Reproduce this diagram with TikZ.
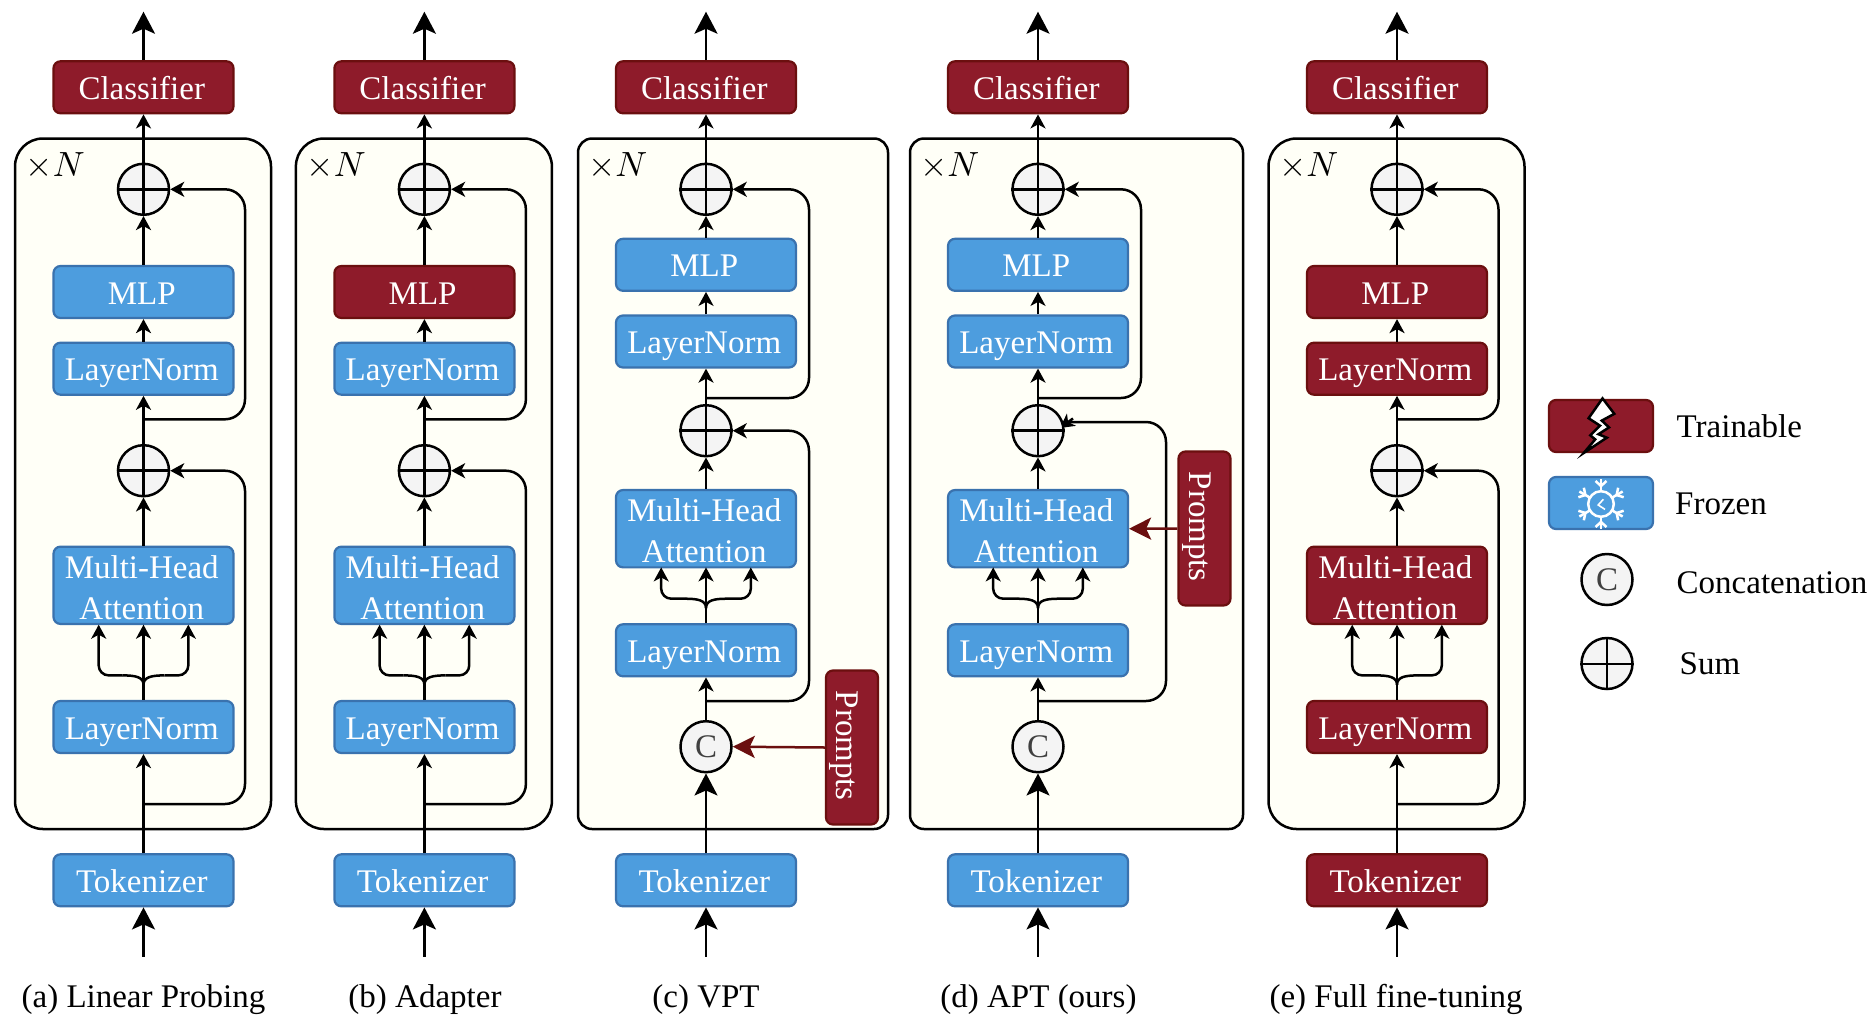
\documentclass[tikz,border=0pt]{standalone}
\usepackage{fontspec}
\setmainfont{Liberation Serif}
\usetikzlibrary{arrows.meta,shapes.geometric}
\definecolor{bluefill}{HTML}{4D9DDE}
\definecolor{blueline}{HTML}{3A72AE}
\definecolor{redfill}{HTML}{8E1B2A}
\definecolor{redline}{HTML}{6B0F0F}
\definecolor{framefill}{HTML}{FFFFF7}
\definecolor{opfill}{HTML}{F4F4F4}
\newcommand{\nudge}{\rule{3.5pt}{0pt}}
\newcommand{\mhatext}{\rule{0pt}{27.5pt}Multi-Head\nudge\\Attention\nudge}
\tikzset{
  x=1pt,y=-1pt,
  basebox/.style={rounded corners=7pt,line width=2.2pt,minimum width=180pt,minimum height=52pt,inner sep=0pt,text=white,align=center,font=\fontsize{33}{41}\selectfont},
  frozen/.style={basebox,draw=blueline,fill=bluefill},
  trainable/.style={basebox,draw=redline,fill=redfill},
  oneline/.style={text height=24pt,text depth=0pt,execute at end node=\nudge},
  mhabox/.style={minimum height=77.3pt},
  legendbox/.style={minimum width=104pt},
  promptbox/.style={trainable,oneline,text height=31pt,rotate=-90,minimum width=154pt,minimum height=52pt},
  opnode/.style={circle,draw=black,line width=2.5pt,fill=opfill,minimum size=51pt,inner sep=0pt,font=\fontsize{33}{33}\selectfont,text=black!75},
  wire/.style={line width=2.5pt,draw=black},
  small/.style={wire,-{Stealth[length=14pt,width=15pt,inset=4pt]}},
  large/.style={wire,-{Stealth[length=22pt,width=23pt,inset=5pt]}},
  promptarrow/.style={line width=2.5pt,draw=redline,-{Stealth[length=22pt,width=22pt,inset=5pt]}},
  loopwire/.style={small,rounded corners=20pt},
  loopplain/.style={wire,rounded corners=20pt},
  forkcorner/.style={small,rounded corners=10pt},
  frameA/.style={draw=black,line width=2.5pt,fill=framefill,rounded corners=28pt},
  frameB/.style={draw=black,line width=2.5pt,fill=framefill,rounded corners=14pt},
  plainlabel/.style={font=\fontsize{33}{33}\selectfont,text=black,inner sep=0pt,text height=22pt,text depth=0pt},
  timesN/.style={text=black,inner sep=0pt,anchor=west},
}
\newcommand{\forkwires}[4]{% id, cx, y of LN top, y of attention bottom
  \coordinate (#1fj) at (#2,#3-16.2);
  \coordinate (#1fl) at (#2-21,#3-25.6);
  \coordinate (#1fr) at (#2+21,#3-25.6);
  \coordinate (#1flc) at (#2-44.8,#3-25.6);
  \coordinate (#1frc) at (#2+44.8,#3-25.6);
  \coordinate (#1flt) at (#2-44.8,#4);
  \coordinate (#1frt) at (#2+44.8,#4);
  \coordinate (#1fmt) at (#2,#4);
  \draw[wire] (#1fj) .. controls (#2,#3-24) and (#2-8,#3-25.6) .. (#1fl);
  \draw[wire] (#1fj) .. controls (#2,#3-24) and (#2+8,#3-25.6) .. (#1fr);
  \draw[forkcorner] (#1fl) -- (#1flc) -- (#1flt);
  \draw[forkcorner] (#1fr) -- (#1frc) -- (#1frt);
  \draw[small] (#1ln1.north) -- (#1fmt);
}
\newcommand{\sumlines}[1]{%
  \draw[wire] (#1.north) -- (#1.south);
  \draw[wire] (#1.west) -- (#1.east);
}
\newcommand{\stdpanel}[4]{% id, cx, MLP style, other-block style
  \draw[frameA] (#2-128.5,138.5) rectangle (#2+127.5,829);
  \node[timesN] (#1times) at (#2-118,165.5) {\scalebox{3.5}{$\times N$}};
  \node[trainable,oneline] (#1cls) at (#2,87.3) {Classifier};
  \node[#3,oneline] (#1mlp) at (#2,292) {MLP};
  \node[#4,oneline] (#1ln2) at (#2,368.7) {LayerNorm};
  \node[#4,mhabox] (#1mha) at (#2,585.3) {\mhatext};
  \node[#4,oneline] (#1ln1) at (#2,727) {LayerNorm};
  \node[#4,oneline] (#1tok) at (#2,880.3) {Tokenizer};
  \node[opnode] (#1s1) at (#2,189.3) {};
  \node[opnode] (#1s2) at (#2,470.7) {};
  \sumlines{#1s1}\sumlines{#1s2}
  \coordinate (#1out) at (#2,11.7);
  \coordinate (#1in) at (#2,956.5);
  \coordinate (#1b2) at (#2,419.3);
  \coordinate (#1b1) at (#2,804);
  \coordinate (#1r2a) at (#2+101.5,419.3);
  \coordinate (#1r2b) at (#2+101.5,189.3);
  \coordinate (#1r1a) at (#2+101.5,804);
  \coordinate (#1r1b) at (#2+101.5,470.7);
  \draw[large] (#1cls.north) -- (#1out);
  \draw[small] (#1s1.north) -- (#1cls.south);
  \draw[small] (#1mlp.north) -- (#1s1.south);
  \draw[small] (#1ln2.north) -- (#1mlp.south);
  \draw[small] (#1s2.north) -- (#1ln2.south);
  \draw[small] (#1mha.north) -- (#1s2.south);
  \draw[large] (#1in) -- (#1tok.south);
  \draw[small] (#1tok.north) -- (#1ln1.south);
  \draw[loopwire] (#1b2) -- (#1r2a) -- (#1r2b) -- (#1s1.east);
  \draw[loopwire] (#1b1) -- (#1r1a) -- (#1r1b) -- (#1s2.east);
  \forkwires{#1}{#2}{701}{624.7}
}
\newcommand{\vptpanel}[4]{% id, cx, right edge of frame, wires drawn under the sum nodes
  \draw[frameB] (#2-128,138.5) rectangle (#3,829);
  #4
  \node[timesN] (#1times) at (#2-118,165.5) {\scalebox{3.5}{$\times N$}};
  \node[trainable,oneline] (#1cls) at (#2,87.3) {Classifier};
  \node[frozen,oneline] (#1mlp) at (#2,264.8) {MLP};
  \node[frozen,oneline] (#1ln2) at (#2,341.5) {LayerNorm};
  \node[frozen,mhabox] (#1mha) at (#2,528.7) {\mhatext};
  \node[frozen,oneline] (#1ln1) at (#2,650.3) {LayerNorm};
  \node[frozen,oneline] (#1tok) at (#2,880.3) {Tokenizer};
  \node[opnode] (#1s1) at (#2,189.3) {};
  \node[opnode] (#1s2) at (#2,430.7) {};
  \node[opnode] (#1con) at (#2,746.7) {C};
  \sumlines{#1s1}\sumlines{#1s2}
  \coordinate (#1out) at (#2,11.7);
  \coordinate (#1in) at (#2,956.5);
  \coordinate (#1b2) at (#2,398);
  \coordinate (#1b1) at (#2,701);
  \coordinate (#1r2a) at (#2+103,398);
  \coordinate (#1r2b) at (#2+103,189.3);
  \draw[large] (#1cls.north) -- (#1out);
  \draw[small] (#1s1.north) -- (#1cls.south);
  \draw[small] (#1mlp.north) -- (#1s1.south);
  \draw[small] (#1ln2.north) -- (#1mlp.south);
  \draw[small] (#1s2.north) -- (#1ln2.south);
  \draw[small] (#1mha.north) -- (#1s2.south);
  \draw[large] (#1tok.north) -- (#1con.south);
  \draw[large] (#1in) -- (#1tok.south);
  \draw[small] (#1con.north) -- (#1ln1.south);
  \draw[loopwire] (#1b2) -- (#1r2a) -- (#1r2b) -- (#1s1.east);
  \forkwires{#1}{#2}{624.3}{567.4}
}
\begin{document}
\begin{tikzpicture}
\useasboundingbox (0,0) rectangle (1872,1026);
\fill[white] (0,0) rectangle (1872,1026);

\stdpanel{a}{143.5}{frozen}{frozen}
\stdpanel{b}{424.4}{trainable}{frozen}
\stdpanel{e}{1397}{trainable}{trainable}

% panel c
\vptpanel{c}{706}{888}{}
\coordinate (cr1a) at (809,701);
\coordinate (cr1b) at (809,430.7);
\draw[loopwire] (cb1) -- (cr1a) -- (cr1b) -- (cs2.east);
\node[promptbox] (cpr) at (852,747.5) {Prompts};
\draw[promptarrow] (cpr.south) -- (ccon.east);

% panel d
\vptpanel{d}{1038}{1243}{%
  \coordinate (db0) at (1038,701);
  \coordinate (dr1a) at (1166,701);
  \coordinate (dr1b) at (1166,422);
  \coordinate (dend) at (1066,422);
  \coordinate (dheadb) at (1073,418.5);
  \coordinate (dtip) at (1060,428);
  \draw[loopplain] (db0) -- (dr1a) -- (dr1b) -- (dend);
  \draw[small] (dheadb) -- (dtip);
}
\node[promptbox] (dpr) at (1204.5,528.5) {Prompts};
\draw[promptarrow] (dpr.south) -- (dmha.east);

% captions
\node[plainlabel] (capa) at (143.5,996.5) {(a) Linear Probing};
\node[plainlabel] (capb) at (425,996.5) {(b) Adapter};
\node[plainlabel] (capc) at (706,996.5) {(c) VPT};
\node[plainlabel] (capd) at (1038.5,996.5) {(d) APT (ours)};
\node[plainlabel] (cape) at (1396,996.5) {(e) Full fine-tuning};

% legend
\node[trainable,legendbox] (legt) at (1601,426) {};
\node[frozen,legendbox] (legf) at (1601,503) {};
\node[opnode] (legc) at (1607,579.5) {C};
\node[opnode] (legs) at (1607,663.5) {};
\draw[line width=2pt] (legs.north) -- (legs.south);
\draw[line width=2pt] (legs.west) -- (legs.east);
\node[plainlabel,anchor=west] (lt1) at (1676.5,426) {Trainable};
\node[plainlabel,anchor=west] (lt2) at (1675,503) {Frozen};
\node[plainlabel,anchor=west] (lt3) at (1676.5,582) {Concatenation};
\node[plainlabel,anchor=west] (lt4) at (1679.5,663) {Sum};

% lightning icon
\draw[fill=white,draw=black,line width=2.5pt,line join=miter]
  (1602.5,398.4) -- (1614.3,413.8) -- (1601.8,420.6) -- (1609,427.4) -- (1598.5,434.2) -- (1606.8,437.7) -- (1583.7,453) -- (1595.2,439.4) -- (1590.3,435.3) -- (1600,425.7) -- (1588.6,418.2) -- cycle;

% snowflake icon
\begin{scope}[shift={(1601,504)},draw=white,line width=2.5pt]
  \draw (0,0) circle (12.8);
  \draw[line width=1.6pt] (2.4,-4.8) -- (-2.8,1) -- (4,5.4);
  \foreach \a in {90,150,210,270,330,30}{
    \begin{scope}[rotate=\a]
      \draw (12.8,0) -- (25,0);
      \draw (18,0) -- (23,5.5);
      \draw (18,0) -- (23,-5.5);
    \end{scope}
  }
\end{scope}
\end{tikzpicture}
\end{document}
